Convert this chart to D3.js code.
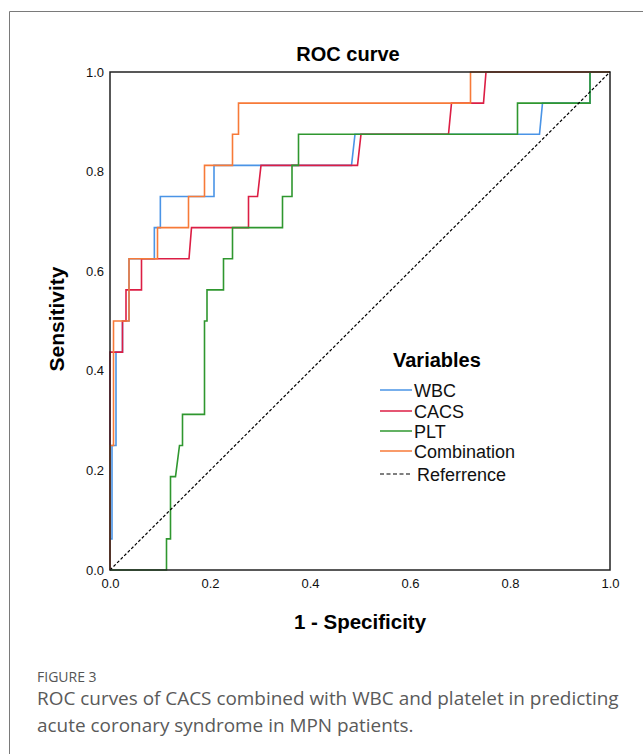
<!DOCTYPE html>
<html><head><meta charset="utf-8">
<script src="https://cdn.jsdelivr.net/npm/d3@7/dist/d3.min.js"></script>
<style>
body{margin:0;background:#fff;}
svg{display:block;}
</style></head>
<body><svg id="c" width="643" height="754"></svg>
<script>
// ---- data (1 - specificity, sensitivity) ----
const seriesNames = ["WBC", "CACS", "PLT", "Combination"];
const wbcFpr = [0, 0, 0.004, 0.004, 0.012, 0.012, 0.025, 0.025, 0.038, 0.038, 0.0887, 0.0887, 0.1007, 0.1007, 0.208, 0.208, 0.483, 0.49, 0.859, 0.865, 0.96, 0.96, 1];
const wbcTpr = [0, 0.0625, 0.0625, 0.25, 0.25, 0.4375, 0.4375, 0.5, 0.5, 0.625, 0.625, 0.6875, 0.6875, 0.75, 0.75, 0.8125, 0.8125, 0.875, 0.875, 0.9375, 0.9375, 1, 1];
const cacsFpr = [0, 0, 0.025, 0.025, 0.032, 0.032, 0.063, 0.063, 0.158, 0.163, 0.277, 0.277, 0.295, 0.302, 0.495, 0.502, 0.677, 0.683, 0.747, 0.752, 1];
const cacsTpr = [0, 0.4375, 0.4375, 0.5, 0.5, 0.5625, 0.5625, 0.625, 0.625, 0.6875, 0.6875, 0.75, 0.75, 0.8125, 0.8125, 0.875, 0.875, 0.9375, 0.9375, 1, 1];
const pltFpr = [0, 0.113, 0.113, 0.121, 0.121, 0.131, 0.139, 0.145, 0.145, 0.189, 0.189, 0.194, 0.194, 0.227, 0.227, 0.245, 0.245, 0.345, 0.345, 0.364, 0.364, 0.377, 0.377, 0.815, 0.815, 0.96, 0.96, 1];
const pltTpr = [0, 0, 0.0625, 0.0625, 0.1875, 0.1875, 0.25, 0.25, 0.3125, 0.3125, 0.5, 0.5, 0.5625, 0.5625, 0.625, 0.625, 0.6875, 0.6875, 0.75, 0.75, 0.8125, 0.8125, 0.875, 0.875, 0.9375, 0.9375, 1, 1];
const combFpr = [0, 0, 0.007, 0.007, 0.038, 0.038, 0.095, 0.095, 0.157, 0.157, 0.189, 0.189, 0.245, 0.245, 0.257, 0.257, 0.721, 0.721, 1];
const combTpr = [0, 0.25, 0.25, 0.5, 0.5, 0.625, 0.625, 0.6875, 0.6875, 0.75, 0.75, 0.8125, 0.8125, 0.875, 0.875, 0.9375, 0.9375, 1, 1];
const refFpr = [0, 1];
const refTpr = [0, 1];
const ticks = [0, 0.2, 0.4, 0.6, 0.8, 1.0];
const colors = ["#4a94e6", "#dc1e44", "#2f972f", "#f77a38"];

const svg = d3.select("#c");
// outer frame
svg.append("path").attr("d","M9.5,754 L9.5,11.5 L643,11.5").attr("fill","none").attr("stroke","#7a7a7a").attr("stroke-width",1);

const L=110, R=610, T=72, B=570;
const x = d3.scaleLinear().domain([0,1]).range([L,R]);
const y = d3.scaleLinear().domain([0,1]).range([B,T]);

const font = "Liberation Sans, Arial, sans-serif";

svg.append("text").attr("x",348).attr("y",61).attr("text-anchor","middle")
  .attr("font-family",font).attr("font-weight","bold").attr("font-size",20).text("ROC curve");

// axes
const xa = svg.append("g").attr("transform",`translate(0,${B})`)
  .call(d3.axisBottom(x).tickValues(ticks).tickFormat(d3.format(".1f")).tickSize(0).tickPadding(9));
const ya = svg.append("g").attr("transform",`translate(${L},0)`)
  .call(d3.axisLeft(y).tickValues(ticks).tickFormat(d3.format(".1f")).tickSize(0).tickPadding(6));
[xa,ya].forEach(a=>{a.select(".domain").remove();a.selectAll("text").attr("font-family",font).attr("font-size",13).attr("fill","#111");});

svg.append("text").attr("x",360).attr("y",629).attr("text-anchor","middle")
  .attr("font-family",font).attr("font-weight","bold").attr("font-size",20.5).text("1 - Specificity");
svg.append("text").attr("transform","translate(64,319) rotate(-90)").attr("text-anchor","middle")
  .attr("font-family",font).attr("font-weight","bold").attr("font-size",21).text("Sensitivity");

// curves
const line = d3.line().x(d=>x(d[0])).y(d=>y(d[1]));
const all = [[wbcFpr,wbcTpr],[cacsFpr,cacsTpr],[pltFpr,pltTpr],[combFpr,combTpr]];
all.forEach((s,i)=>{
  const pts = s[0].map((f,k)=>[f,s[1][k]]);
  svg.append("path").datum(pts).attr("d",line).attr("fill","none").attr("stroke",colors[i]).attr("stroke-width",1.6);
});
svg.append("path").datum(refFpr.map((f,k)=>[f,refTpr[k]])).attr("d",line).attr("fill","none")
  .attr("stroke","#000").attr("stroke-width",1.2).attr("stroke-dasharray","3,2");

// plot frame
svg.append("rect").attr("x",L).attr("y",T).attr("width",R-L).attr("height",B-T)
  .attr("fill","none").attr("stroke","#222").attr("stroke-width",1.5);

// legend
svg.append("text").attr("x",393).attr("y",367).attr("font-family",font).attr("font-weight","bold").attr("font-size",20).text("Variables");
const rowsY = [390, 411, 431, 451, 474];
const legNames = seriesNames.concat(["Referrence"]);
legNames.forEach((n,i)=>{
  const ly = rowsY[i];
  svg.append("line").attr("x1",380).attr("x2",412).attr("y1",ly).attr("y2",ly)
    .attr("stroke",i<4?colors[i]:"#000").attr("stroke-width",i<4?1.5:1.2).attr("stroke-dasharray",i<4?null:"4,2.5");
  svg.append("text").attr("x",i<4?414:417).attr("y",ly+6.5).attr("font-family",font).attr("font-size",18).attr("fill","#111").text(n);
});

// caption
svg.append("text").attr("x",37).attr("y",682).attr("font-family","Open Sans, sans-serif").attr("font-size",14).attr("fill","#555").text("FIGURE 3");
const cap = ["ROC curves of CACS combined with WBC and platelet in predicting","acute coronary syndrome in MPN patients."];
const capNodes = cap.map((t,i)=>svg.append("text").attr("x",37).attr("y",705+i*27).attr("font-family","Open Sans, sans-serif")
    .attr("font-size",17).attr("fill","#5a5a5a").text(t));
const w0 = capNodes[0].node().getComputedTextLength();
const fs = 17*582/w0;
capNodes.forEach(n=>n.attr("font-size",fs));
</script></body></html>
